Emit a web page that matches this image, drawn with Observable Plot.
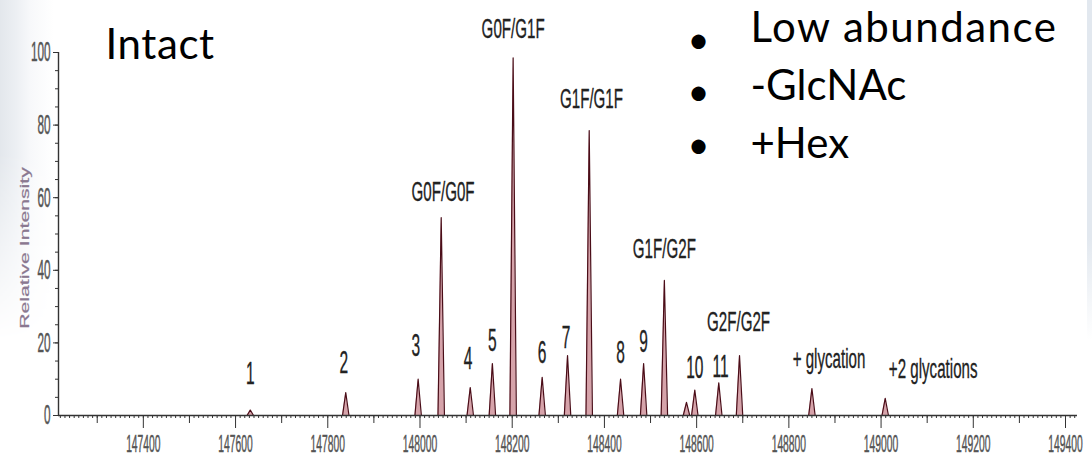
<!DOCTYPE html>
<html><head><meta charset="utf-8">
<script src="https://cdn.jsdelivr.net/npm/d3@7"></script>
<script src="https://cdn.jsdelivr.net/npm/@observablehq/plot@0.6"></script>
<style>
body{margin:0;background:#fff;}
#wrap{position:relative;width:1092px;height:462px;overflow:hidden;background:#fff;}
#bgL{position:absolute;left:0;top:0;width:54px;height:340px;background:linear-gradient(to right,#e3e7ec 0,#eceff3 16px,#f7f8fa 30px,#fff 54px);-webkit-mask-image:linear-gradient(to bottom,#000 45%,transparent);mask-image:linear-gradient(to bottom,#000 45%,transparent);}
#bgR{position:absolute;left:1087px;top:0;width:5px;height:340px;background:linear-gradient(to bottom,#e2e8ef 70%,#fff);}
#wrap svg{position:absolute;left:0;top:0;}
</style></head><body><div id="wrap"><div id="bgL"></div><div id="bgR"></div></div>
<script>
// ---- data ----
const peakMass      = [147632, 147839, 147996, 148046, 148109, 148157, 148202, 148265, 148320, 148367, 148435, 148485, 148530, 148578, 148596, 148648, 148693, 148850, 149009];
const peakIntensity = [1.5, 6.3, 10, 54.5, 7.7, 14.3, 98.5, 10.5, 16.5, 78.5, 10, 14.3, 37.2, 3.6, 7, 9, 16.5, 7.4, 4.7];

const labelText  = ["1", "2", "3", "G0F/G0F", "4", "5", "G0F/G1F", "6", "7", "G1F/G1F", "8", "9", "G1F/G2F", "10", "11", "G2F/G2F", "+ glycation", "+2 glycations"];
const labelMass  = [147632, 147835, 147991, 148050, 148104, 148157, 148202, 148265, 148317, 148372, 148435, 148485, 148530, 148596, 148652, 148691, 148887, 149113];
const labelLevel = [8.8, 11.6, 16.5, 59.2, 12.9, 17.9, 104.1, 14.6, 18.5, 84.8, 14.6, 17.4, 43.5, 10.2, 10.5, 23.4, 13.2, 10.2];

const xTickLabels = [147400, 147600, 147800, 148000, 148200, 148400, 148600, 148800, 149000, 149200, 149400];
const yTickLabels = [0, 20, 40, 60, 80, 100];

const titleText = "Intact";
const notes = ["Low abundance", "-GlcNAc", "+Hex"];
const yLabel = "Relative Intensity";

// ---- build ----
const xDomain = [147216, 149426];
const halfWidth = 7;
const profile = peakMass.flatMap((m, i) => [
  {m: m - halfWidth, v: 0, id: i},
  {m: m, v: peakIntensity[i], id: i},
  {m: m + halfWidth, v: 0, id: i}
]);
const labels = labelText.map((t, i) => ({t, m: labelMass[i], v: labelLevel[i], num: /^\d+$/.test(t)}));
const midTicks = d3.range(147300, 149426, 200);
const minorTicks = d3.range(147220, 149426, 10);
const yMinor = d3.range(0, 101, 5);

const FONT = "'Liberation Sans', Arial, sans-serif";
const SLIDE = "Lato, 'Open Sans', sans-serif";

const chart = Plot.plot({
  width: 1092, height: 462,
  marginLeft: 58, marginRight: 15, marginTop: 52, marginBottom: 47,
  style: {fontFamily: FONT, background: "transparent", overflow: "visible"},
  x: {domain: xDomain, label: null},
  y: {domain: [0, 100], label: null},
  marks: [
    Plot.areaY(profile, {x: "m", y: "v", z: "id", fill: "#d6a3aa", fillOpacity: 1}),
    Plot.lineY(profile, {x: "m", y: "v", z: "id", stroke: "#4a0d18", strokeWidth: 1.2}),
    Plot.axisX(minorTicks, {tickSize: 3, text: null, stroke: "#333", label: null}),
    Plot.axisX(midTicks, {tickSize: 8, text: null, stroke: "#333", label: null}),
    Plot.axisX(xTickLabels, {tickSize: 13, tickPadding: 6, stroke: "#333", fill: "#555", fontSize: 24, tickFormat: d => String(d), label: null}),
    Plot.axisY(yMinor, {tickSize: 3, text: null, stroke: "#333", label: null}),
    Plot.axisY(yTickLabels, {tickSize: 5, tickPadding: 3, stroke: "#333", fill: "#555", fontSize: 28, tickFormat: d => String(d), label: null}),
    Plot.ruleY([0], {stroke: "#333", strokeWidth: 1.6}),
    Plot.ruleX([xDomain[0]], {y1: 0, y2: 100, stroke: "#333", strokeWidth: 1.4}),
    Plot.text(labels, {x: "m", y: "v", text: "t", fontSize: d => d.num ? 31 : 28, textAnchor: "middle", lineAnchor: "bottom", fill: "#222", stroke: "#222", strokeWidth: 0.35}),
    Plot.text([yLabel], {text: d => d, frameAnchor: "left", dx: -34, dy: 14, rotate: -90, fontSize: 12.5, fill: "#8a7890", stroke: "#8a7890", strokeWidth: 0.2, textAnchor: "middle", lineAnchor: "middle"}),
    Plot.text([titleText], {text: d => d, frameAnchor: "top-left", dx: 47, dy: 6, textAnchor: "start", lineAnchor: "bottom", fontSize: 42, fontFamily: SLIDE, fill: "#000"}),
    Plot.text([notes.map(() => "\u2022").join("\n")], {text: d => d, frameAnchor: "top-left", dx: 640, dy: 105, textAnchor: "middle", lineAnchor: "bottom", lineHeight: 1.37, fontSize: 38, fontFamily: SLIDE, fill: "#000"}),
    Plot.text([notes.join("\n")], {text: d => d, frameAnchor: "top-left", dx: 692, dy: 105, textAnchor: "start", lineAnchor: "bottom", lineHeight: 1.37, fontSize: 42, fontFamily: SLIDE, fill: "#000"})
  ]
});

// condense the (vertically stretched) scanned-chart typography
const xSet = new Set(xTickLabels.map(String));
const ySet = new Set(yTickLabels.map(String));
const lSet = new Set(labelText);
chart.querySelectorAll("text").forEach(el => {
  if (el.querySelector("tspan")) return;
  const s = el.textContent;
  let k = null, axis = false;
  if (xSet.has(s)) { k = 0.43; axis = true; }
  else if (ySet.has(s)) { k = 0.42; axis = true; }
  else if (lSet.has(s)) k = /^\d+$/.test(s) ? 0.5 : 0.54;
  else if (s === yLabel) k = 1.7;
  if (k === null) return;
  const t = el.getAttribute("transform") || "";
  el.setAttribute("transform", `${t} scale(${k},1)`);
  if (axis) { el.setAttribute("stroke", "#555"); el.setAttribute("stroke-width", "0.5"); }
});
chart.querySelectorAll("tspan").forEach(el => {
  if (el.textContent === notes[0]) el.setAttribute("letter-spacing", "1.5");
});
chart.querySelectorAll("text").forEach(el => {
  if (el.textContent === titleText) el.setAttribute("letter-spacing", "0.6");
});

document.getElementById("wrap").appendChild(chart);
</script>
</body></html>
